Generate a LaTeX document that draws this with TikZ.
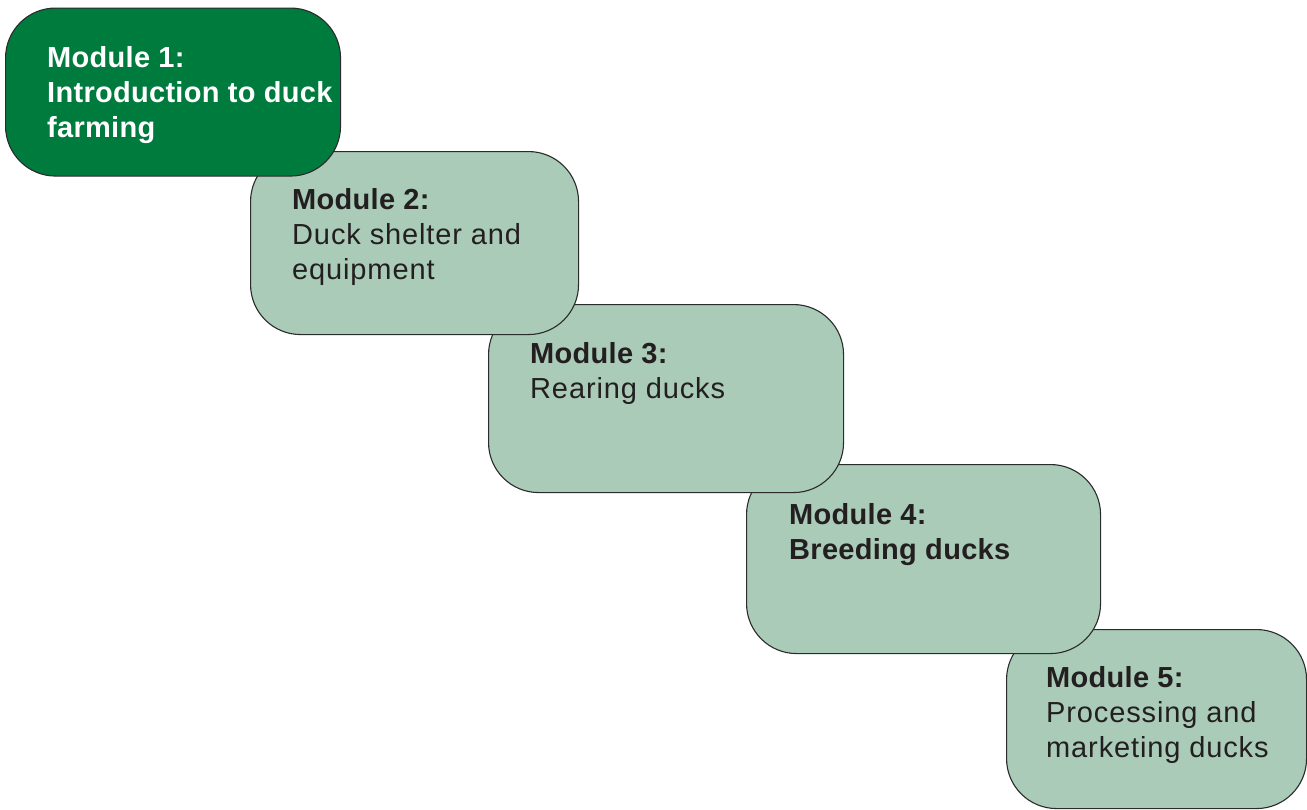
\documentclass[tikz,border=0pt]{standalone}
\usepackage{fontspec}
\setmainfont{Liberation Sans}
\newfontfamily\boldf[LetterSpace=1]{Liberation Sans Bold}
\newfontfamily\regf[LetterSpace=3]{Liberation Sans}
\definecolor{darkgreen}{HTML}{007B3E}
\definecolor{lightgreen}{HTML}{A9CBB7}
\definecolor{edge}{HTML}{2B2B2B}
\definecolor{ink}{HTML}{231F20}
\tikzset{
  modbox/.style={draw=edge, line width=1.1pt, rounded corners=50pt, inner sep=0pt, anchor=north west},
  lightbox/.style={modbox, fill=lightgreen},
  darkbox/.style={modbox, fill=darkgreen},
  modtext/.style={anchor=base west, inner sep=0pt, align=left, font=\fontsize{29}{34.8}\selectfont, text=ink},
}
\begin{document}
\begin{tikzpicture}[x=1pt,y=-1pt]
\useasboundingbox (0,0) rectangle (1307,809);
% boxes drawn back to front
\node[lightbox, minimum width=300pt, minimum height=179pt] (b5) at (1006,629) {};
\node[lightbox, minimum width=354pt, minimum height=189pt] (b4) at (746,464) {};
\node[lightbox, minimum width=355pt, minimum height=188pt] (b3) at (488,304) {};
\node[lightbox, minimum width=328pt, minimum height=183pt] (b2) at (250,151) {};
\node[darkbox, minimum width=335pt, minimum height=168pt] (b1) at (5,7.5) {};
% texts (anchored at the baseline of the last line)
\node[modtext, text=white] (t1) at (47,137) {\boldf Module 1:\\\boldf Introduction to duck\\\boldf farming};
\node[modtext] (t2) at (292,279) {\boldf Module 2:\\\regf Duck shelter and\\\regf equipment};
\node[modtext] (t3) at (530,398) {\boldf Module 3:\\\regf Rearing ducks};
\node[modtext] (t4) at (789,559) {\boldf Module 4:\\\boldf Breeding ducks};
\node[modtext] (t5) at (1046,757) {\boldf Module 5:\\\regf Processing and\\\regf marketing ducks};
\end{tikzpicture}
\end{document}
